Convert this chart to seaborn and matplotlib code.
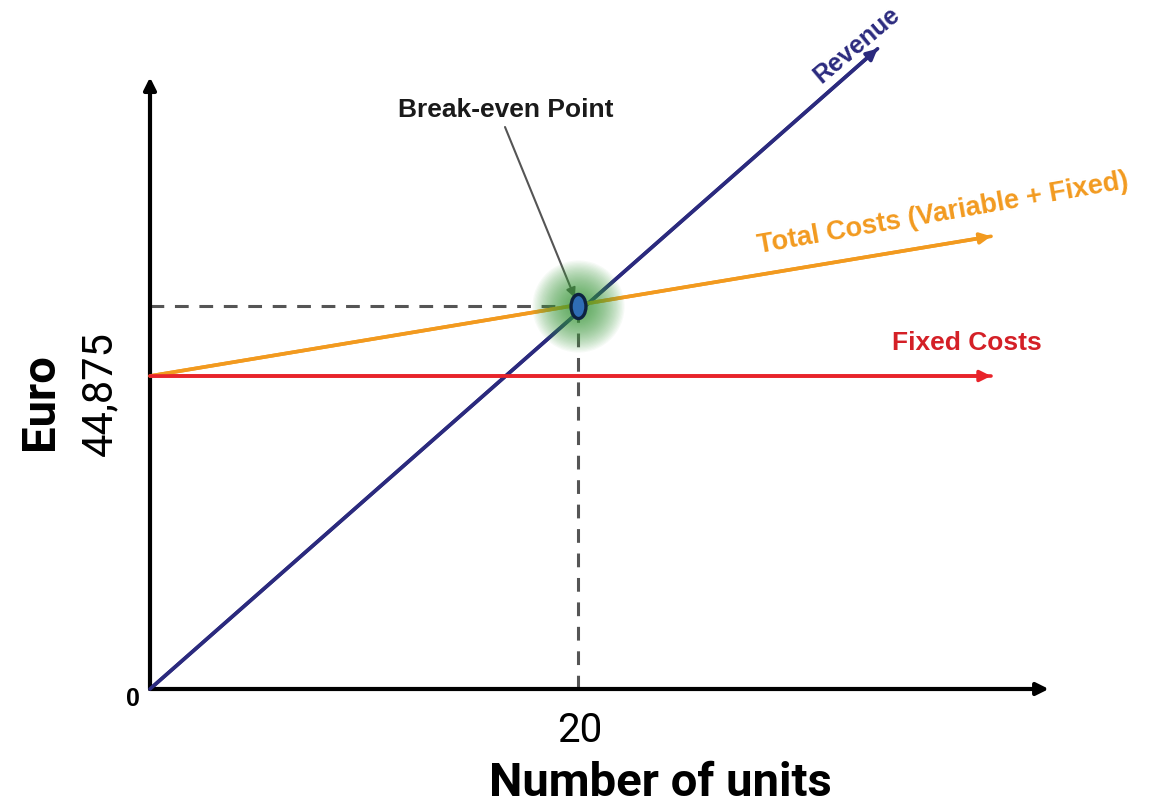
import numpy as np
import pandas as pd
import seaborn as sns
import matplotlib.pyplot as plt
from matplotlib.path import Path

# Valores (unidades, euros)
rev_units = [0, 34.0]
revenue = [0, 91800]
cost_units = [0, 39.3]
total_costs = [44875, 64900]
fixed_costs = [44875, 44875]
be_units = 20
be_euro = 54900
x_axis_end = 42.0
y_axis_end = 87700
x_ticks = [0, 20]
x_tick_labels = ["0", "20"]
fixed_label = "44,875"

W, H = 1156, 803

sns.set_theme(style="white")
plt.rcParams['font.family'] = ['Liberation Sans', 'DejaVu Sans']

fig = plt.figure(figsize=(W / 100, H / 100), dpi=100)
ax = fig.add_axes([0, 0, 1, 1])

# escala: origem no pixel (150, 690)
ux = 20 / 428          # unidades por pixel
ey = 44875 / 313       # euros por pixel
ax.set_xlim(-150 * ux, (W - 150) * ux)
ax.set_ylim(-(H - 690) * ey, 690 * ey)
ax.axis("off")


def fp(x, y):
    return (x / W, 1 - y / H)


# eixos com setas
for end in [(x_axis_end, 0), (0, y_axis_end)]:
    ax.annotate("", xy=end, xytext=(0, 0),
                arrowprops=dict(arrowstyle="-|>", color="black", lw=3,
                                mutation_scale=18, shrinkA=0, shrinkB=0))

# linhas tracejadas até o ponto de equilíbrio
for xs, ys in [([0, be_units], [be_euro, be_euro]), ([be_units, be_units], [0, be_euro])]:
    sns.lineplot(x=xs, y=ys, color="#555555", lw=2.2, estimator=None,
                 sort=False, ax=ax)
    ax.lines[-1].set_dashes([4.5, 3.5])

# linhas de receita e custos
df = pd.DataFrame({
    "units": rev_units + cost_units + cost_units,
    "euro": revenue + total_costs + fixed_costs,
    "line": ["Revenue"] * 2 + ["Total"] * 2 + ["Fixed"] * 2,
})
cores = {"Revenue": "#2B2A7E", "Total": "#F29A1F", "Fixed": "#E8242B"}
sns.lineplot(data=df, x="units", y="euro", hue="line", palette=cores,
             lw=2.6, legend=False, sort=False, estimator=None, ax=ax)

for nome, xs, ys in [("Revenue", rev_units, revenue), ("Total", cost_units, total_costs),
                     ("Fixed", cost_units, fixed_costs)]:
    ax.annotate("", xy=(xs[1], ys[1]), xytext=(xs[0], ys[0]),
                arrowprops=dict(arrowstyle="-|>", color=cores[nome], lw=2.6,
                                mutation_scale=16, shrinkA=0, shrinkB=0))

# brilho verde no ponto de equilíbrio
n_glow = 36
for i in range(n_glow):
    f = 1 - i / n_glow
    ax.scatter([be_units], [be_euro], s=4400 * f ** 2, color="#3E9E3E",
               alpha=0.045, lw=0, zorder=4)

circ = Path.unit_circle()
elipse = Path(circ.vertices * np.array([0.62, 1.0]), circ.codes)
sns.scatterplot(x=[be_units], y=[be_euro], marker=elipse, s=300, color="#2F6DB5",
                edgecolor="#0D2240", linewidth=2.4, zorder=6, ax=ax)

# rótulos
fig.text(*fp(506, 110), "Break-even Point", ha="center", va="center",
         fontsize=19, fontweight="bold", color="#1A1A1A")
ax.annotate("", xy=(be_units - 0.15, be_euro + 1200), xycoords="data",
            xytext=fp(505, 128), textcoords="figure fraction",
            arrowprops=dict(arrowstyle="-|>", color="#555555", lw=1.5,
                            mutation_scale=14, shrinkA=0, shrinkB=0))

fig.text(*fp(857, 45), "Revenue", ha="center", va="center", rotation=40,
         fontsize=18, fontweight="bold", color="#2B2A7E")
fig.text(*fp(943, 214), "Total Costs (Variable + Fixed)", ha="center", va="center",
         rotation=10, fontsize=19.5, fontweight="bold", color="#F29A1F")
fig.text(*fp(967, 343), "Fixed Costs", ha="center", va="center",
         fontsize=19, fontweight="bold", color="#D42027")

fig.text(*fp(133, 699), x_tick_labels[0], ha="center", va="center",
         fontsize=18, fontweight="bold", color="black")
fig.text(*fp(580, 731), x_tick_labels[1], ha="center", va="center",
         fontsize=29, color="black", family=["Roboto", "DejaVu Sans"])
fig.text(*fp(660, 783), "Number of units", ha="center", va="center",
         fontsize=34, fontweight="bold", color="black", family=["Roboto", "DejaVu Sans"])
fig.text(*fp(100, 394), fixed_label, ha="center", va="center", rotation=90,
         fontsize=30, color="black", family=["Roboto", "DejaVu Sans"])
fig.text(*fp(40, 402), "Euro", ha="center", va="center", rotation=90,
         fontsize=34, fontweight="bold", color="black", family=["Roboto", "DejaVu Sans"])

fig.savefig("out.png", dpi=100, facecolor="white")
